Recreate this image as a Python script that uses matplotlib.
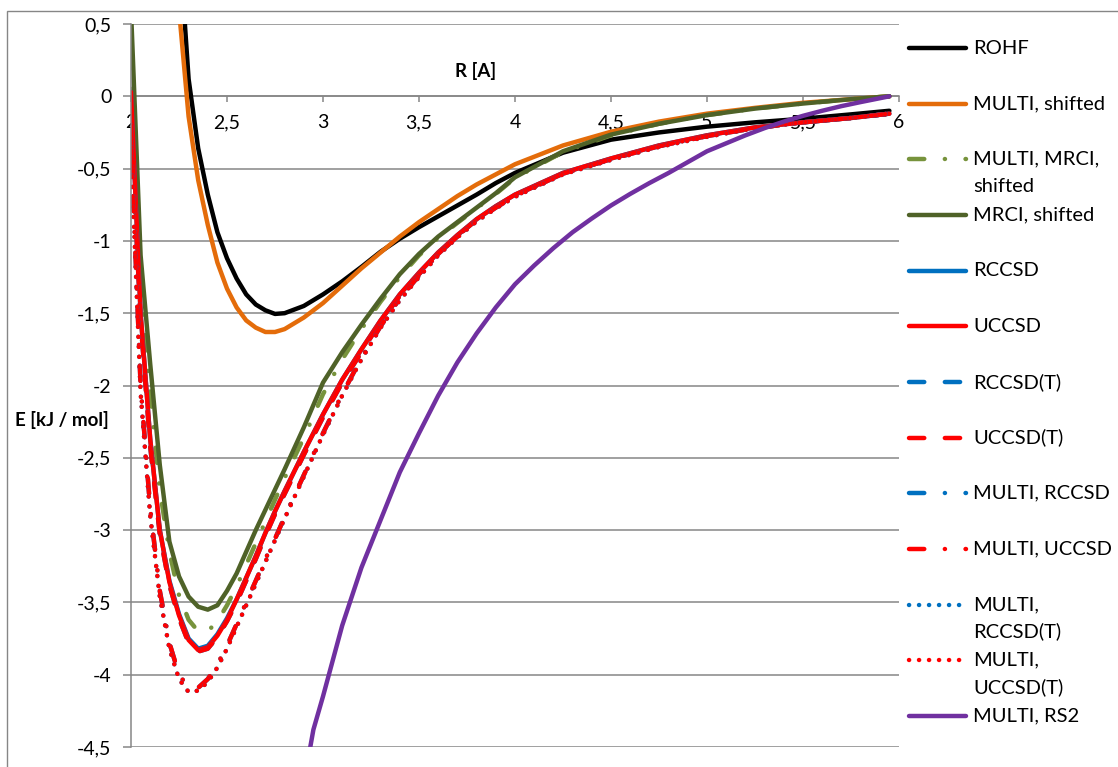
import matplotlib
matplotlib.use('Agg')
import matplotlib.pyplot as plt
from matplotlib.lines import Line2D
from matplotlib.patches import Rectangle
from matplotlib.ticker import FuncFormatter, MultipleLocator

# distances in Angstrom, energies in kJ/mol
r_hf = [2.25, 2.3, 2.35, 2.4, 2.45, 2.5, 2.55, 2.6, 2.65, 2.7, 2.75, 2.8, 2.9, 3.0,
        3.1, 3.2, 3.3, 3.4, 3.5, 3.6, 3.7, 3.8, 3.9, 4.0, 4.25, 4.5, 4.75, 5.0,
        5.25, 5.5, 5.75, 5.95]
rohf = [1.1, 0.12, -0.36, -0.68, -0.94, -1.12, -1.26, -1.37, -1.44, -1.48, -1.505,
        -1.50, -1.45, -1.37, -1.28, -1.18, -1.075, -0.985, -0.905, -0.83, -0.755,
        -0.68, -0.60, -0.53, -0.39, -0.30, -0.25, -0.21, -0.18, -0.155, -0.125, -0.10]
multi_shift = [0.6, -0.14, -0.58, -0.89, -1.15, -1.33, -1.46, -1.55, -1.60, -1.63,
               -1.63, -1.61, -1.53, -1.43, -1.31, -1.19, -1.08, -0.97, -0.87, -0.78,
               -0.69, -0.61, -0.54, -0.47, -0.34, -0.245, -0.175, -0.12, -0.08,
               -0.045, -0.02, 0.0]

r = [2.0, 2.05, 2.1, 2.15, 2.2, 2.25, 2.3, 2.35, 2.4, 2.45, 2.5, 2.55, 2.6, 2.65,
     2.7, 2.75, 2.8, 2.9, 3.0, 3.1, 3.2, 3.3, 3.4, 3.5, 3.6, 3.7, 3.8, 3.9, 4.0,
     4.25, 4.5, 4.75, 5.0, 5.25, 5.5, 5.75, 5.95]
multi_mrci = [0.3, -1.3, -2.05, -2.72, -3.15, -3.45, -3.62, -3.70, -3.70, -3.63,
              -3.52, -3.39, -3.24, -3.09, -2.94, -2.79, -2.64, -2.36, -2.06, -1.82,
              -1.61, -1.42, -1.25, -1.10, -0.98, -0.875, -0.775, -0.675, -0.565,
              -0.385, -0.27, -0.19, -0.13, -0.085, -0.05, -0.02, 0.0]
mrci = [0.6, -1.1, -1.85, -2.55, -3.08, -3.32, -3.46, -3.53, -3.55, -3.52, -3.42,
        -3.30, -3.15, -3.00, -2.86, -2.72, -2.58, -2.29, -1.98, -1.77, -1.58, -1.40,
        -1.23, -1.09, -0.97, -0.87, -0.77, -0.67, -0.56, -0.38, -0.265, -0.19,
        -0.13, -0.085, -0.05, -0.02, 0.0]
rccsd = [0.03, -1.5, -2.37, -3.0, -3.35, -3.58, -3.75, -3.82, -3.80, -3.72, -3.61,
         -3.48, -3.33, -3.18, -3.02, -2.87, -2.73, -2.46, -2.20, -1.96, -1.75, -1.55,
         -1.37, -1.22, -1.08, -0.96, -0.85, -0.76, -0.68, -0.53, -0.43, -0.34,
         -0.27, -0.215, -0.18, -0.15, -0.12]
uccsd = [0.03, -1.5, -2.37, -3.0, -3.36, -3.59, -3.76, -3.83, -3.81, -3.73, -3.62,
         -3.48, -3.33, -3.18, -3.02, -2.87, -2.73, -2.46, -2.20, -1.96, -1.75, -1.55,
         -1.37, -1.22, -1.08, -0.96, -0.85, -0.76, -0.68, -0.53, -0.43, -0.34,
         -0.27, -0.215, -0.18, -0.15, -0.12]
rccsd_t = [-0.2, -1.55, -2.42, -3.03, -3.38, -3.61, -3.78, -3.84, -3.82, -3.74,
           -3.63, -3.50, -3.35, -3.20, -3.04, -2.89, -2.75, -2.48, -2.22, -1.98,
           -1.77, -1.56, -1.38, -1.23, -1.09, -0.965, -0.855, -0.765, -0.685, -0.535,
           -0.435, -0.345, -0.275, -0.22, -0.18, -0.15, -0.12]
uccsd_t = [-0.2, -1.55, -2.42, -3.03, -3.38, -3.61, -3.78, -3.84, -3.82, -3.74,
           -3.63, -3.50, -3.35, -3.20, -3.04, -2.89, -2.75, -2.48, -2.22, -1.98,
           -1.77, -1.56, -1.38, -1.23, -1.09, -0.965, -0.855, -0.765, -0.685, -0.535,
           -0.435, -0.345, -0.275, -0.22, -0.18, -0.15, -0.12]
multi_rccsd = [-0.3, -2.0, -2.85, -3.42, -3.78, -4.0, -4.09, -4.09, -4.03, -3.93,
               -3.80, -3.65, -3.50, -3.35, -3.20, -3.06, -2.91, -2.62, -2.33, -2.06,
               -1.81, -1.59, -1.40, -1.24, -1.09, -0.97, -0.86, -0.77, -0.69, -0.535,
               -0.435, -0.345, -0.275, -0.22, -0.18, -0.15, -0.12]
multi_uccsd = [-0.3, -2.0, -2.85, -3.42, -3.78, -4.0, -4.09, -4.09, -4.03, -3.93,
               -3.80, -3.65, -3.50, -3.35, -3.20, -3.06, -2.91, -2.62, -2.33, -2.06,
               -1.81, -1.59, -1.40, -1.24, -1.09, -0.97, -0.86, -0.77, -0.69, -0.535,
               -0.435, -0.345, -0.275, -0.22, -0.18, -0.15, -0.12]
multi_rccsd_t = [-0.35, -2.05, -2.9, -3.46, -3.82, -4.03, -4.12, -4.11, -4.05, -3.95,
                 -3.82, -3.67, -3.52, -3.37, -3.22, -3.07, -2.92, -2.63, -2.34, -2.07,
                 -1.82, -1.60, -1.41, -1.25, -1.10, -0.975, -0.865, -0.775, -0.695,
                 -0.54, -0.44, -0.35, -0.28, -0.22, -0.18, -0.15, -0.12]
multi_uccsd_t = [-0.35, -2.05, -2.9, -3.46, -3.82, -4.03, -4.12, -4.11, -4.05, -3.95,
                 -3.82, -3.67, -3.52, -3.37, -3.22, -3.07, -2.92, -2.63, -2.34, -2.07,
                 -1.82, -1.60, -1.41, -1.25, -1.10, -0.975, -0.865, -0.775, -0.695,
                 -0.54, -0.44, -0.35, -0.28, -0.22, -0.18, -0.15, -0.12]

r_rs2 = [2.9, 2.95, 3.0, 3.1, 3.2, 3.3, 3.4, 3.5, 3.6, 3.7, 3.8, 3.9, 4.0, 4.1,
         4.2, 4.3, 4.4, 4.5, 4.6, 4.7, 4.8, 4.9, 5.0, 5.1, 5.2, 5.3, 5.4, 5.5, 5.6,
         5.7, 5.8, 5.95]
multi_rs2 = [-4.75, -4.38, -4.15, -3.66, -3.26, -2.93, -2.60, -2.33, -2.07, -1.84,
             -1.64, -1.46, -1.30, -1.17, -1.05, -0.94, -0.845, -0.755, -0.675, -0.60,
             -0.53, -0.455, -0.38, -0.325, -0.27, -0.22, -0.175, -0.135, -0.10,
             -0.068, -0.04, 0.0]

labels = ['ROHF', 'MULTI, shifted', 'MULTI, MRCI,\nshifted', 'MRCI, shifted',
          'RCCSD', 'UCCSD', 'RCCSD(T)', 'UCCSD(T)', 'MULTI, RCCSD', 'MULTI, UCCSD',
          'MULTI,\nRCCSD(T)', 'MULTI,\nUCCSD(T)', 'MULTI, RS2']

plt.rcParams['font.family'] = ['Lato', 'DejaVu Sans']
plt.rcParams['lines.scale_dashes'] = False

LW = 3.2
solid = None
long_dash = (0, (11.0, 14.8))
dash_dot = (0, (11.0, 14.8, 0.1, 14.8))
dotted = (0, (0.1, 7.1))

series = [
    (r_hf, rohf, '#000000', solid),
    (r_hf, multi_shift, '#E46C0A', solid),
    (r, multi_mrci, '#77933C', dash_dot),
    (r, mrci, '#4F6228', solid),
    (r, rccsd, '#0070C0', solid),
    (r, uccsd, '#FF0000', solid),
    (r, rccsd_t, '#0070C0', long_dash),
    (r, uccsd_t, '#FF0000', long_dash),
    (r, multi_rccsd, '#0070C0', dash_dot),
    (r, multi_uccsd, '#FF0000', dash_dot),
    (r, multi_rccsd_t, '#0070C0', dotted),
    (r, multi_uccsd_t, '#FF0000', dotted),
    (r_rs2, multi_rs2, '#7030A0', solid),
]

W, H = 1118, 767
fig = plt.figure(figsize=(W / 100, H / 100), dpi=100)
ax = fig.add_axes([131 / W, 1 - 747 / H, 768 / W, 723 / H])

grid_c = '#868686'
for xs, ys, c, ls in series:
    kw = dict(color=c, lw=LW, solid_capstyle='round', dash_capstyle='round',
              solid_joinstyle='round')
    if ls is not None:
        kw['linestyle'] = ls
    ax.plot(xs, ys, **kw)

ax.set_xlim(2, 6)
ax.set_ylim(-4.5, 0.5)
ax.xaxis.set_major_locator(MultipleLocator(0.5))
ax.yaxis.set_major_locator(MultipleLocator(0.5))
fmt = FuncFormatter(lambda v, p: format(round(v, 2), 'g').replace('.', ','))
ax.xaxis.set_major_formatter(fmt)
ax.yaxis.set_major_formatter(fmt)
ax.yaxis.grid(True, color=grid_c, lw=1.1)
ax.set_axisbelow(True)

for s in ['top', 'right']:
    ax.spines[s].set_visible(False)
ax.spines['bottom'].set_position(('data', 0))
ax.spines['bottom'].set_color(grid_c)
ax.spines['left'].set_color(grid_c)
ax.spines['bottom'].set_linewidth(1.1)
ax.spines['left'].set_linewidth(1.1)
ax.spines['bottom'].set_zorder(0.5)
ax.tick_params(axis='x', direction='out', length=4, width=1.1, color=grid_c,
               pad=9, labelsize=14)
ax.tick_params(axis='y', direction='out', length=6, width=1.1, color=grid_c,
               pad=8, labelsize=14)

ax.set_xlabel('R [A]', fontweight='bold', fontsize=13.5)
ax.xaxis.set_label_coords(345 / 768, 0.948)
ax.set_ylabel('E [kJ / mol]', fontweight='bold', fontsize=13.5, rotation=0,
              ha='center', va='center')
ax.yaxis.set_label_coords(-69 / 768, 0.452)

# legend on the right, drawn by hand so the handle sits at the first text line
for i, ((xs, ys, c, ls), lab) in enumerate(zip(series, labels)):
    ypx = 48 + i * 55.67
    yf = 1 - ypx / H
    kw = dict(color=c, lw=LW, solid_capstyle='round', dash_capstyle='round',
              transform=fig.transFigure)
    if ls is not None:
        kw['linestyle'] = ls
    fig.add_artist(Line2D([909 / W, 966 / W], [yf, yf], **kw))
    for j, part in enumerate(lab.split('\n')):
        fig.text(973 / W, 1 - (ypx + j * 27) / H, part, fontsize=14.5,
                 va='center', ha='left')

fig.add_artist(Rectangle((7 / W, -0.1), 1.2, 1.1 - 11 / H, transform=fig.transFigure,
                         fill=False, edgecolor=grid_c, lw=1))

fig.savefig('out.png', dpi=100)
